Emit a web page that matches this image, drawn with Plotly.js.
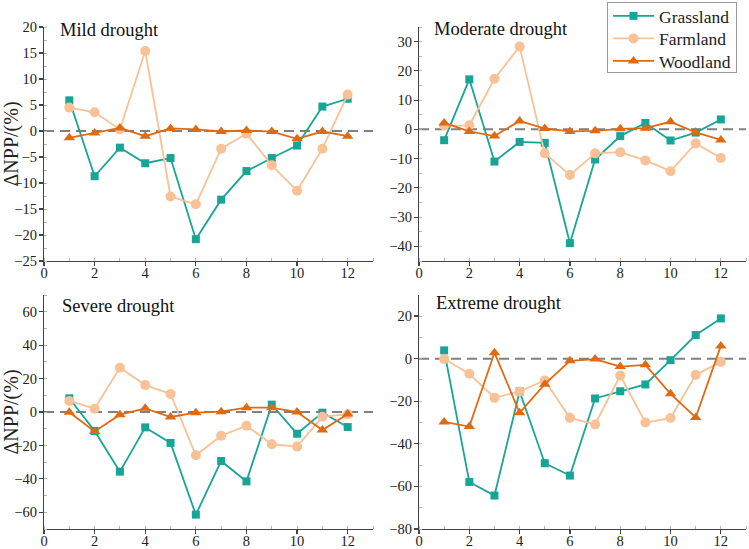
<!DOCTYPE html>
<html>
<head>
<meta charset="utf-8">
<script src="https://cdn.plot.ly/plotly-3.0.1.min.js"></script>
<style>
  html, body { margin: 0; padding: 0; background: #fff; }
  #chart { width: 749px; height: 549px; }
</style>
</head>
<body>
<div id="chart"></div>
<script>
// Month index (1-12)
const months = [1, 2, 3, 4, 5, 6, 7, 8, 9, 10, 11, 12];

// Panel labels
const droughtLevels = ['Mild drought', 'Moderate drought', 'Severe drought', 'Extreme drought'];
const landTypes = ['Grassland', 'Farmland', 'Woodland'];

// ΔNPP (%) — mild drought
const mildGrassland = [5.9, -8.7, -3.2, -6.2, -5.2, -20.8, -13.2, -7.7, -5.2, -2.8, 4.7, 6.2];
const mildFarmland  = [4.5, 3.6, 0.3, 15.4, -12.6, -14.1, -3.4, -0.5, -6.6, -11.5, -3.4, 7.0];
const mildWoodland  = [-1.3, -0.4, 0.6, -1.0, 0.5, 0.3, -0.1, 0.1, -0.1, -1.5, -0.1, -1.0];

// ΔNPP (%) — moderate drought
const moderateGrassland = [-3.7, 17.1, -11.0, -4.3, -4.6, -38.9, -10.3, -2.3, 2.2, -3.8, -1.1, 3.4];
const moderateFarmland  = [1.3, 1.4, 17.3, 28.3, -8.2, -15.6, -8.2, -7.8, -10.6, -14.3, -4.8, -9.8];
const moderateWoodland  = [2.2, -0.7, -2.3, 2.9, 0.3, -0.7, -0.5, 0.2, 0.4, 2.6, -1.0, -3.6];

// ΔNPP (%) — severe drought
const severeGrassland = [8.2, -11.4, -35.7, -9.2, -18.5, -61.4, -29.3, -41.5, 4.4, -13.0, -0.4, -9.0];
const severeFarmland  = [6.6, 2.0, 26.5, 16.1, 10.8, -25.9, -14.2, -8.2, -19.3, -20.7, -2.8, -1.4];
const severeWoodland  = [-0.2, -11.6, -1.6, 2.2, -3.0, -0.4, 0.2, 2.6, 2.6, 0.0, -10.8, -1.2];

// ΔNPP (%) — extreme drought
const extremeGrassland = [3.9, -57.9, -64.3, -15.4, -49.1, -54.9, -18.7, -15.3, -12.1, -0.7, 11.1, 18.9];
const extremeFarmland  = [-0.2, -7.1, -18.4, -15.4, -10.2, -27.8, -30.9, -7.9, -30.0, -27.9, -7.6, -1.5];
const extremeWoodland  = [-29.7, -31.9, 2.8, -25.4, -12.0, -1.0, -0.2, -3.7, -2.9, -16.5, -27.6, 6.0];

// Y-axis ranges and tick spacing per panel
const yRanges = [[-25, 20], [-45, 35], [-70, 70], [-80, 29.9]];
const yDticks = [5, 10, 20, 20];

const panelData = [
  [mildGrassland, mildFarmland, mildWoodland],
  [moderateGrassland, moderateFarmland, moderateWoodland],
  [severeGrassland, severeFarmland, severeWoodland],
  [extremeGrassland, extremeFarmland, extremeWoodland]
];

const colors = ['#17a597', '#f8c196', '#e06a12'];
const symbols = ['square', 'circle', 'triangle-up'];
const markerSizes = [8, 10, 10];

const serif = "'Liberation Serif', 'Times New Roman', serif";

// Subplot placement (paper coordinates)
const W = 749, H = 549;
const xDomains = [[44 / W, 373 / W], [419 / W, 746 / W]];
const yDomains = [[1 - 261 / H, 1 - 27 / H], [1 - 529 / H, 1 - 295 / H]];

const traces = [];
const layout = {
  width: W,
  height: H,
  margin: { l: 0, r: 0, t: 0, b: 0 },
  paper_bgcolor: '#ffffff',
  plot_bgcolor: '#ffffff',
  font: { family: serif, size: 14, color: '#222' },
  showlegend: true,
  legend: {
    x: 607 / W, y: 1 - 2 / H,
    xanchor: 'left', yanchor: 'top',
    bordercolor: '#9a9a9a', borderwidth: 1,
    bgcolor: '#ffffff',
    itemwidth: 41,
    font: { family: serif, size: 17.5, color: '#222' },
    tracegroupgap: 0
  },
  shapes: [],
  annotations: []
};

panelData.forEach((series, p) => {
  const col = p % 2, row = Math.floor(p / 2);
  const xa = p === 0 ? 'x' : 'x' + (p + 1);
  const ya = p === 0 ? 'y' : 'y' + (p + 1);
  const xKey = p === 0 ? 'xaxis' : 'xaxis' + (p + 1);
  const yKey = p === 0 ? 'yaxis' : 'yaxis' + (p + 1);

  series.forEach((vals, s) => {
    traces.push({
      x: months,
      y: vals,
      xaxis: xa,
      yaxis: ya,
      type: 'scatter',
      mode: 'lines+markers',
      name: landTypes[s],
      legendgroup: landTypes[s],
      showlegend: p === 0,
      line: { color: colors[s], width: 1.8 },
      marker: { color: colors[s], symbol: symbols[s], size: markerSizes[s] },
      cliponaxis: false
    });
  });

  // Major ticks point outward, short light minor ticks point inward
  const axisCommon = {
    showline: true,
    linecolor: '#444',
    linewidth: 1.2,
    mirror: false,
    showgrid: false,
    zeroline: false,
    ticks: 'outside',
    ticklen: 4,
    tickwidth: 1.2,
    tickcolor: '#444',
    tickfont: { family: serif, size: 14.5, color: '#222' }
  };
  const minorCommon = { ticks: 'inside', ticklen: 3, tickwidth: 1, tickcolor: '#b5b5b5', showgrid: false };

  layout[xKey] = Object.assign({}, axisCommon, {
    domain: xDomains[col],
    anchor: ya,
    range: [0, 13],
    tickmode: 'linear', tick0: 0, dtick: 2,
    ticklabelstandoff: -6,
    minor: Object.assign({}, minorCommon, { dtick: 1, tick0: 0 })
  });

  layout[yKey] = Object.assign({}, axisCommon, {
    domain: yDomains[row],
    anchor: xa,
    range: yRanges[p],
    tickmode: 'linear', tick0: 0, dtick: yDticks[p],
    ticklabelstandoff: -1,
    minor: Object.assign({}, minorCommon, { dtick: yDticks[p] / 2, tick0: 0 }),
    title: col === 0 ? { text: 'ΔNPP/(%)', font: { family: serif, size: 20, color: '#222' }, standoff: 5 } : undefined
  });

  // Dashed reference line at ΔNPP = 0
  layout.shapes.push({
    type: 'line', layer: 'below',
    xref: xa + ' domain', x0: 0, x1: 1,
    yref: ya, y0: 0, y1: 0,
    line: { color: '#808080', width: 2, dash: '10px,6px' }
  });

  // Panel heading
  const titlePos = [[58, 30], [432, 29], [60, 306], [434, 303]][p];
  layout.annotations.push({
    xref: 'paper', yref: 'paper',
    x: titlePos[0] / W, y: 1 - titlePos[1] / H,
    xanchor: 'left', yanchor: 'middle',
    text: droughtLevels[p],
    showarrow: false,
    font: { family: serif, size: 18.5, color: '#111' }
  });
});

Plotly.newPlot('chart', traces, layout, { displayModeBar: false, staticPlot: true }).then(gd => {
  // Tighten the legend rows to a 22.5 px pitch and fit the frame to them
  const rows = gd.querySelectorAll('.legend .traces');
  const pitch = 22.5;
  let first = null;
  rows.forEach((row, i) => {
    const m = /translate\(([-\d.]+),\s*([-\d.]+)\)/.exec(row.getAttribute('transform') || '');
    if (!m) return;
    const tx = parseFloat(m[1]), ty = parseFloat(m[2]);
    if (first === null) first = ty - 5;
    row.setAttribute('transform', `translate(${tx},${first + i * pitch})`);
  });
  const bg = gd.querySelector('.legend .bg');
  if (bg) bg.setAttribute('height', '70');
});
</script>
</body>
</html>
